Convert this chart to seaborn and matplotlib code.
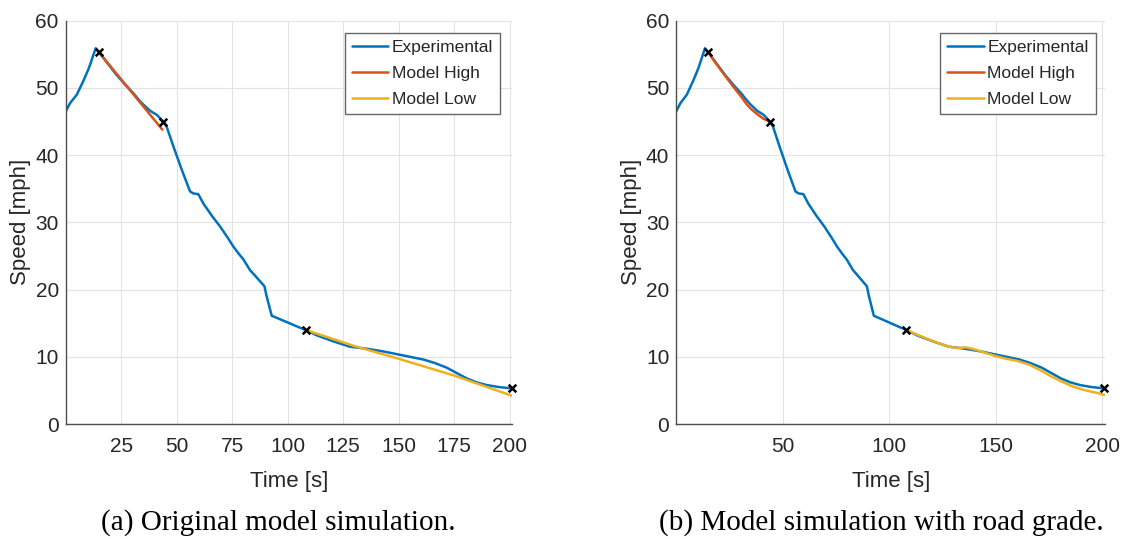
import numpy as np
import pandas as pd
import matplotlib
matplotlib.use("Agg")
import matplotlib.pyplot as plt
import seaborn as sns

# ---------------- data ----------------
exp_t = [0, 1.9, 5, 7.9, 10.5, 13.5, 15, 19, 23, 27, 30.5, 33, 35, 38, 41, 44,
         45.5, 48.5, 52.3, 56, 57.5, 59.7, 62, 66, 69.5, 73, 75.5, 78, 80, 83, 86,
         89.5, 90.5, 92.8, 95, 100, 105, 108, 113, 120.5, 128, 135.5, 143, 150.5,
         155, 161, 166, 171.5, 176, 180.5, 185, 189.5, 195, 200.8]
exp_v = [46.5, 47.7, 49.0, 51.0, 53.0, 55.9, 55.3, 53.6, 51.9, 50.4, 49.2, 48.2, 47.5, 46.6, 46.0, 45.0,
         44.2, 41.3, 37.8, 34.6, 34.3, 34.2, 32.8, 30.9, 29.4, 27.7, 26.4, 25.3, 24.5, 22.9, 21.8,
         20.5, 19.0, 16.1, 15.8, 15.1, 14.4, 14.0, 13.2, 12.3, 11.5, 11.2, 10.8, 10.3,
         10.0, 9.6, 9.1, 8.4, 7.6, 6.8, 6.2, 5.8, 5.5, 5.3]

# (a) original model
high_a_t = [15, 43.5]
high_a_v = [55.3, 43.8]
low_a_t = [108, 130, 150, 175, 201]
low_a_v = [14.0, 11.6, 9.7, 7.2, 4.2]

# (b) model with road grade
high_b_t = [15, 19, 23, 27, 30.5, 33, 35, 38, 41, 44]
high_b_v = [55.3, 53.5, 51.8, 50.1, 48.7, 47.6, 46.9, 46.1, 45.4, 45.0]
low_b_t = [108, 113, 120, 128, 132, 136, 140, 145, 150, 155, 160, 166, 171, 176,
           181, 186, 191, 195, 198, 201]
low_b_v = [14.0, 13.3, 12.4, 11.5, 11.3, 11.4, 11.1, 10.6, 10.1, 9.7, 9.4, 8.8, 8.0, 7.1,
           6.3, 5.6, 5.1, 4.8, 4.6, 4.3]

mark_t = [15, 44, 108, 201]
mark_v = [55.3, 45.0, 14.0, 5.3]

xticks_a = [25, 50, 75, 100, 125, 150, 175, 200]
xticks_b = [50, 100, 150, 200]
yticks = [0, 10, 20, 30, 40, 50, 60]
captions = ["(a) Original model simulation.", "(b) Model simulation with road grade."]
labels = ["Experimental", "Model High", "Model Low"]

# ---------------- style ----------------
sns.set_theme(style="whitegrid")
plt.rcParams['font.family'] = ['Liberation Sans', 'DejaVu Sans']

C_EXP, C_HIGH, C_LOW = "#0072BD", "#D95319", "#EDB120"
TXT = "#262626"

fig = plt.figure(figsize=(11.43, 5.39), dpi=100)
W, H = 1143, 539
ax_a = fig.add_axes([65.7 / W, 1 - 424 / H, (512 - 65.7) / W, (424 - 20.7) / H])
ax_b = fig.add_axes([676.2 / W, 1 - 424 / H, (1105.4 - 676.2) / W, (424 - 20.7) / H])

panels = [
    (ax_a, high_a_t, high_a_v, low_a_t, low_a_v, xticks_a, 201.0),
    (ax_b, high_b_t, high_b_v, low_b_t, low_b_v, xticks_b, 201.5),
]

for i, (ax, ht, hv, lt, lv, xt, xmax) in enumerate(panels):
    sns.lineplot(x=exp_t, y=exp_v, ax=ax, color=C_EXP, lw=1.8, label=labels[0],
                 sort=False, estimator=None)
    sns.lineplot(x=ht, y=hv, ax=ax, color=C_HIGH, lw=1.8, label=labels[1],
                 sort=False, estimator=None)
    sns.lineplot(x=lt, y=lv, ax=ax, color=C_LOW, lw=1.8, label=labels[2],
                 sort=False, estimator=None)
    sns.scatterplot(x=mark_t, y=mark_v, ax=ax, marker='x', color='black',
                    s=30, linewidth=1.8, zorder=6, legend=False)
    for coll in ax.collections:
        coll.set_clip_on(False)

    ax.set_xlim(0, xmax)
    ax.set_ylim(0, 60)
    ax.set_xticks(xt)
    ax.set_yticks(yticks)
    ax.set_facecolor("white")
    ax.grid(True, color="#e3e3e3", lw=0.8)
    for s in ["top", "right"]:
        ax.spines[s].set_visible(False)
    for s in ["left", "bottom"]:
        ax.spines[s].set_visible(True)
        ax.spines[s].set_color("#4d4d4d")
        ax.spines[s].set_linewidth(1.0)
    ax.tick_params(axis='both', direction='in', length=4, width=0.8,
                   color="#4d4d4d", labelsize=15, labelcolor=TXT)
    ax.tick_params(axis='x', pad=9)
    ax.tick_params(axis='y', pad=5)
    ax.set_xlabel("Time [s]", fontsize=16, color=TXT, labelpad=11)
    ax.set_ylabel("Speed [mph]", fontsize=16, color=TXT, labelpad=3)

    bx = 0.973 if i == 0 else 0.977
    leg = ax.legend(loc="upper right", bbox_to_anchor=(bx, 0.97), fontsize=12.5,
                    frameon=True, fancybox=False, framealpha=1, edgecolor="#666666",
                    handlelength=2.1, handletextpad=0.2, labelspacing=0.62,
                    borderpad=0.4, borderaxespad=0)
    leg.get_frame().set_linewidth(1.0)
    for t in leg.get_texts():
        t.set_color(TXT)

fig.text(278 / W, 1 - 523 / H, captions[0], ha="center", va="center",
         fontsize=21, family="Liberation Serif", color="black")
fig.text(881.7 / W, 1 - 523 / H, captions[1], ha="center", va="center",
         fontsize=21, family="Liberation Serif", color="black")

fig.savefig("out.png", dpi=100, facecolor="white")
